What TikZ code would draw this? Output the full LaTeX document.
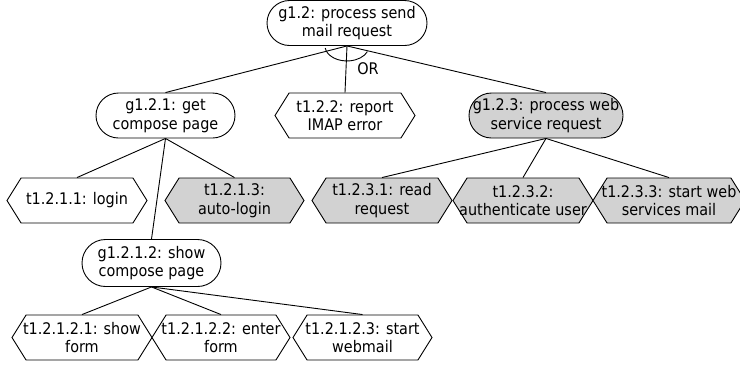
\documentclass[tikz,border=0pt]{standalone}
\usepackage{fontspec}
\setmainfont{DejaVu Sans Condensed}
\usetikzlibrary{shapes.misc,shapes.symbols}
% two centred lines that never widen the shape they sit in
\newcommand{\twolines}[2]{\makebox[0pt]{#1}\\\makebox[0pt]{#2}}
\newcommand{\oneline}[1]{\makebox[0pt]{#1}}
\tikzset{
  base/.style={draw=black, line width=0.9pt, inner sep=0pt, align=center,
    minimum height=45pt, font=\fontsize{16}{18.5}\selectfont, fill=white},
  goal/.style={base, rounded rectangle},
  task/.style={base, signal, signal to=west and east, signal pointer angle=116},
  soft/.style={fill=gray!35},
  link/.style={draw=black, line width=0.9pt},
}
\begin{document}
\begin{tikzpicture}[x=1pt, y=1pt]
\useasboundingbox (0,0) rectangle (740,-365);
% top goal and its OR-decomposition
\node[goal, minimum width=160pt] (g12) at (347,-23) {\twolines{g1.2: process send}{mail request}};
\node[goal, minimum width=139pt] (g121) at (165.5,-115.5) {\twolines{g1.2.1: get}{compose page}};
\node[task, minimum width=140pt] (t122) at (345,-115.5) {\twolines{t1.2.2: report}{IMAP error}};
\node[goal, soft, minimum width=154pt] (g123) at (546,-115.5) {\twolines{g1.2.3: process web}{service request}};
% third row
\node[task, minimum width=140pt] (t1211) at (77,-200.5) {\oneline{t1.2.1.1: login}};
\node[task, soft, minimum width=139pt] (t1213) at (234.5,-200.5) {\twolines{t1.2.1.3:}{auto-login}};
\node[task, soft, minimum width=140pt] (t1231) at (382,-200.5) {\twolines{t1.2.3.1: read}{request}};
\node[task, soft, minimum width=140pt] (t1232) at (523,-200.5) {\twolines{t1.2.3.2:}{authenticate user}};
\node[task, soft, minimum width=152pt] (t1233) at (669,-200.5) {\twolines{t1.2.3.3: start web}{services mail}};
% nested goal and its tasks
\node[goal, minimum width=139pt, minimum height=47pt] (g1212) at (151.5,-263) {\twolines{g1.2.1.2: show}{compose page}};
\node[task, minimum width=140pt] (t12121) at (82,-337.5) {\twolines{t1.2.1.2.1: show}{form}};
\node[task, minimum width=138pt] (t12122) at (221,-337.5) {\twolines{t1.2.1.2.2: enter}{form}};
\node[task, minimum width=139pt] (t12123) at (362.5,-337.5) {\twolines{t1.2.1.2.3: start}{webmail}};
% decomposition links
\draw[link] (g12.south) -- (g121.north);
\draw[link] (g12.south) -- (t122.north);
\draw[link] (g12.south) -- (g123.north);
\draw[link] (g121.south) -- (t1211.north);
\draw[link] (g121.south) -- (t1213.north);
\draw[link] (g121.south) -- (g1212.north);
\draw[link] (g123.south) -- (t1231.north);
\draw[link] (g123.south) -- (t1232.north);
\draw[link] (g123.south) -- (t1233.north);
\draw[link] (g1212.south) -- (t12121.north);
\draw[link] (g1212.south) -- (t12122.north);
\draw[link] (g1212.south) -- (t12123.north);
% OR arc across the three branches
\draw[link] (g12.south) ++(188:22pt and 15pt) arc[start angle=188, end angle=338, x radius=22pt, y radius=15pt];
\node[font=\fontsize{16}{18.5}\selectfont, inner sep=0pt] (orlbl) at (368,-69) {OR};
\end{tikzpicture}
\end{document}
